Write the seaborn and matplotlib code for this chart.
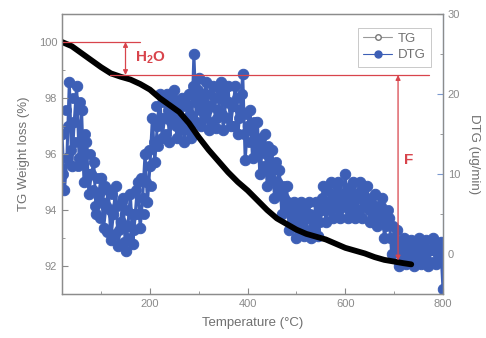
#!/usr/bin/env python3

import pandas as pd
import seaborn as sns
import matplotlib.pyplot as plt
from matplotlib.lines import Line2D
from matplotlib.ticker import MultipleLocator

# TG curve (weight %, left axis)
tg_temp = [20, 40, 60, 80, 100, 120, 140, 160, 180, 200, 220, 240, 260, 280,
           300, 320, 340, 360, 380, 400, 420, 440, 460, 480, 500, 520, 540,
           560, 580, 600, 620, 640, 660, 680, 700, 720, 735]
tg_loss = [100.0, 99.85, 99.6, 99.35, 99.1, 98.88, 98.76, 98.66, 98.5, 98.3,
           98.0, 97.75, 97.5, 97.1, 96.6, 96.15, 95.75, 95.35, 95.0, 94.7,
           94.35, 94.0, 93.7, 93.5, 93.3, 93.15, 93.05, 92.95, 92.8, 92.65,
           92.55, 92.45, 92.32, 92.22, 92.16, 92.1, 92.06]

# DTG readings (ug/min, right axis), every 5 C from 20 to 800
dtg_temp = list(range(20, 805, 5))
dtg_rate = [
    15.0, 8.0, 12.0, 21.5, 11.0, 16.5, 21.0, 12.0, 18.0, 9.0,
    14.0, 7.5, 10.0, 11.5, 5.0, 7.5, 9.5, 3.2, 6.0, 8.0,
    1.8, 5.0, 8.5, 1.0, 4.0, 7.0, 0.4, 3.5, 7.5, 1.2,
    5.0, 9.0, 3.2, 7.0, 12.5, 6.5, 11.0, 17.0, 11.5, 16.0,
    20.0, 14.5, 17.0, 20.0, 14.0, 17.5, 20.5, 14.5, 17.0, 19.5,
    14.0, 17.0, 20.0, 14.5, 25.0, 16.5, 22.0, 16.0, 19.0, 21.5,
    15.5, 18.5, 21.0, 15.8, 18.0, 21.5, 15.5, 19.0, 21.0, 16.0,
    18.5, 21.0, 15.0, 18.0, 22.5, 11.8, 16.0, 18.0, 12.0, 14.5,
    16.5, 10.0, 13.0, 15.0, 8.5, 11.5, 13.0, 7.0, 9.0, 10.5,
    5.0, 7.0, 8.5, 3.0, 5.0, 6.5, 2.0, 4.5, 6.5, 2.2,
    4.5, 6.5, 2.0, 4.0, 6.5, 2.2, 5.5, 8.5, 4.0, 6.5,
    9.0, 4.5, 7.0, 9.0, 4.5, 6.5, 10.0, 4.5, 7.0, 9.0,
    4.5, 7.0, 9.0, 4.5, 6.5, 8.5, 4.0, 6.0, 7.5, 3.5,
    5.5, 7.0, 2.0, 4.0, 4.5, 0.0, 2.0, 3.0, -1.5, 0.5,
    2.0, -1.2, 0.5, 1.8, -1.5, 0.5, 2.0, -1.2, 0.2, 1.8,
    -1.5, 0.5, 2.0, -1.2, 0.0, 1.5, -4.4,
]

# second pass of readings between the above, every 5 C from 22.5 to 797.5
dtg_temp_b = [t + 2.5 for t in range(20, 800, 5)]
dtg_rate_b = [
    10.0, 18.0, 16.0, 13.0, 19.5, 14.0, 11.0, 19.0, 13.0, 15.0,
    10.0, 12.5, 8.0, 6.0, 9.5, 4.5, 6.5, 8.5, 2.8, 5.5,
    7.5, 2.5, 6.0, 3.0, 6.5, 1.5, 5.5, 2.0, 5.0, 3.0,
    8.0, 5.0, 9.5, 5.0, 9.0, 13.0, 8.5, 14.0, 18.5, 13.5,
    17.0, 19.0, 15.0, 18.0, 16.5, 19.5, 16.0, 18.5, 15.5, 16.5,
    18.5, 15.5, 17.5, 21.0, 19.0, 20.5, 18.0, 20.0, 17.0, 18.0,
    20.0, 16.5, 19.5, 17.0, 20.5, 17.5, 20.0, 17.0, 19.0, 18.5,
    16.0, 19.5, 17.0, 20.0, 15.0, 17.5, 14.0, 15.5, 16.5, 12.5,
    13.5, 14.5, 11.0, 12.5, 13.5, 9.5, 10.5, 11.5, 8.0, 7.5,
    8.5, 5.5, 6.5, 5.5, 4.0, 3.5, 5.5, 3.0, 4.0, 5.5,
    3.0, 5.0, 4.5, 3.0, 5.0, 4.0, 7.0, 5.5, 8.0, 5.5,
    7.5, 6.0, 8.5, 5.5, 7.5, 6.0, 8.0, 5.5, 8.5, 6.0,
    7.5, 5.5, 8.0, 6.0, 7.0, 5.5, 7.0, 5.0, 6.0, 5.0,
    6.0, 4.5, 3.5, 5.5, 2.0, 3.5, 1.0, 0.5, 1.5, -0.5,
    1.0, 0.5, -0.5, 1.0, 0.0, 1.5, -0.5, 1.0, -1.0, 0.5,
    0.5, -1.0, 1.0, 0.5, -0.5, 1.0,
]

blue = "#3d5fb6"
red = "#d8444c"
grey = "#8a8a8a"

sns.set_style("ticks")
plt.rcParams['font.family'] = ['Liberation Sans', 'DejaVu Sans']
plt.rcParams['mathtext.fontset'] = 'custom'
plt.rcParams['mathtext.bf'] = 'Liberation Sans:bold'
plt.rcParams['mathtext.rm'] = 'Liberation Sans'

fig, ax = plt.subplots(figsize=(4.86, 3.38), dpi=100)
fig.subplots_adjust(left=0.1276, right=0.9115, bottom=0.130, top=0.9586)
ax2 = ax.twinx()
ax.set_zorder(ax2.get_zorder() + 1)
ax.patch.set_visible(False)

dtg = pd.DataFrame({"temp": dtg_temp, "rate": dtg_rate})
dtg_b = pd.DataFrame({"temp": dtg_temp_b, "rate": dtg_rate_b})
sns.lineplot(data=dtg, x="temp", y="rate", ax=ax2, color=blue, lw=2.2,
             marker="o", markersize=7.5, markeredgecolor=blue, sort=False)
sns.scatterplot(data=dtg_b, x="temp", y="rate", ax=ax2, color=blue, s=55,
                edgecolor=blue, linewidth=0.5)

tg = pd.DataFrame({"temp": tg_temp, "loss": tg_loss})
sns.lineplot(data=tg, x="temp", y="loss", ax=ax, color="black", lw=4.2)

# red annotations
ax.plot([20, 180], [100, 100], color=red, lw=0.9)
ax.plot([118, 772], [98.82, 98.82], color=red, lw=0.9)
arrow = dict(arrowstyle="<|-|>", color=red, lw=0.9, mutation_scale=7,
             shrinkA=0, shrinkB=0)
ax.annotate("", xy=(150, 98.82), xytext=(150, 100), arrowprops=arrow)
ax.annotate("", xy=(708, 92.2), xytext=(708, 98.82), arrowprops=arrow)
ax.text(170, 99.42, r"$\mathbf{H_2O}$", color=red, fontsize=11, va="center")
ax.text(720, 95.8, "F", color=red, fontsize=11, fontweight="bold", va="center")

ax.set_xlim(20, 800)
ax.set_ylim(91, 101)
ax2.set_ylim(-5, 30)
ax.xaxis.set_major_locator(MultipleLocator(200))
ax.xaxis.set_minor_locator(MultipleLocator(100))
ax.yaxis.set_major_locator(MultipleLocator(2))
ax.yaxis.set_minor_locator(MultipleLocator(1))
ax2.yaxis.set_major_locator(MultipleLocator(10))
ax2.yaxis.set_minor_locator(MultipleLocator(5))

for a in (ax, ax2):
    a.tick_params(which="both", direction="in", colors=grey, labelsize=8,
                  labelcolor=grey)
    a.tick_params(which="major", length=4)
    a.tick_params(which="minor", length=2.5)
    for s in a.spines.values():
        s.set_color("#8c8c8c")
        s.set_linewidth(0.9)
ax2.spines["right"].set_color("#7b98cf")
ax2.tick_params(axis="y", colors="#7b98cf", labelcolor=grey)

ax.set_xlabel("Temperature (°C)", color="#707070", fontsize=9.5, labelpad=6)
ax.set_ylabel("TG Weight loss (%)", color="#707070", fontsize=9.5, labelpad=6)
ax2.set_ylabel("DTG (ug/min)", color="#707070", fontsize=9.5, rotation=270,
               labelpad=14)

handles = [
    Line2D([], [], color="#999999", lw=0.8, marker="o", markersize=4,
           markerfacecolor="white", markeredgecolor="#777777"),
    Line2D([], [], color=blue, lw=0.8, marker="o", markersize=5,
           markerfacecolor=blue, markeredgecolor=blue),
]
leg = ax.legend(handles, ["TG", "DTG"], loc="upper right",
                bbox_to_anchor=(0.985, 0.975), fontsize=9.5, fancybox=False,
                edgecolor="#bbbbbb", handlelength=2.2, borderpad=0.4,
                labelspacing=0.3, handletextpad=0.4)
for t in leg.get_texts():
    t.set_color("#707070")
leg.get_frame().set_linewidth(0.7)

fig.savefig("out.png", dpi=100)
